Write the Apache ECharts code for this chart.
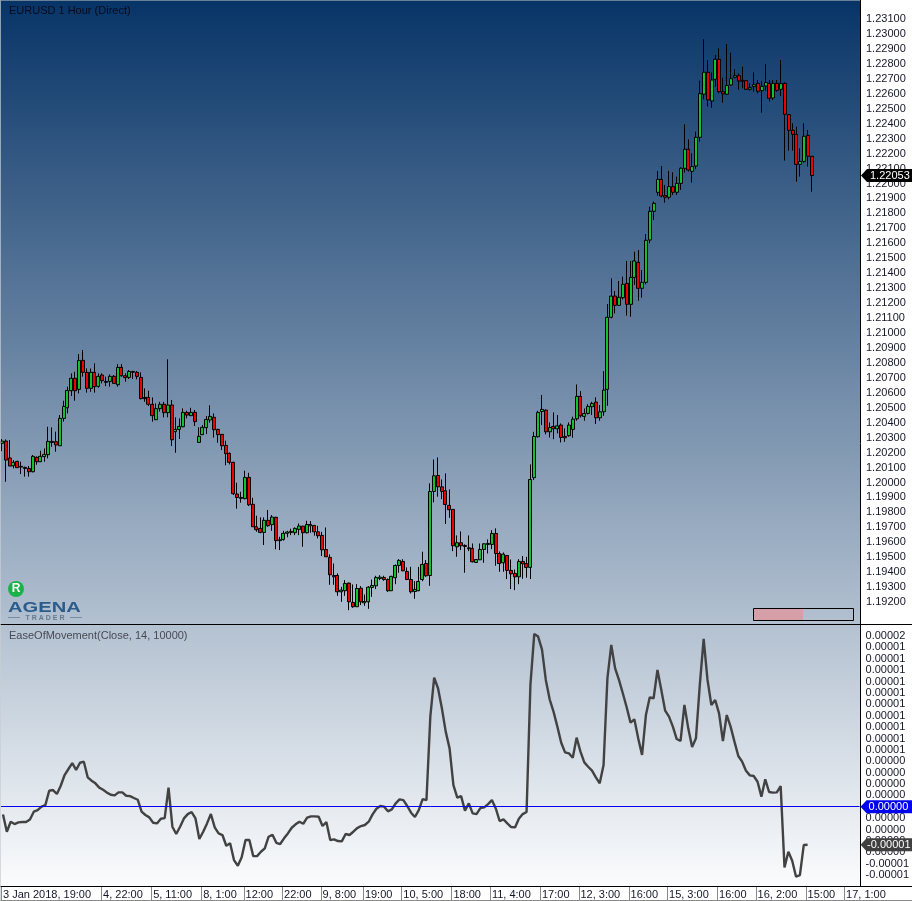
<!DOCTYPE html>
<html>
<head>
<meta charset="utf-8">
<style>html,body{margin:0;padding:0;background:#fff}</style>
<script src="https://cdn.jsdelivr.net/npm/echarts@6/dist/echarts.min.js"></script>
</head>
<body>
<div id="main" style="width:912px;height:901px;"></div>
<script>
// hourly bars
var opens = [
1.20262,1.20277,1.20164,1.20112,1.20141,1.20108,1.20101,1.20094,1.20072,1.20168,
1.20139,1.20173,1.20186,1.20275,1.20273,1.20246,1.20429,1.20500,1.20614,1.20697,
1.20623,1.20817,1.20737,1.20630,1.20737,1.20643,1.20719,1.20676,1.20676,1.20710,
1.20654,1.20770,1.20714,1.20703,1.20737,1.20737,1.20703,1.20569,1.20569,1.20523,
1.20420,1.20494,1.20523,1.20467,1.20518,1.20340,1.20355,1.20373,1.20469,1.20447,
1.20469,1.20268,1.20320,1.20367,1.20418,1.20436,1.20355,1.20322,1.20248,1.20195,
1.20135,1.19923,1.19900,1.19892,1.20034,1.19854,1.19704,1.19693,1.19666,1.19747,
1.19718,1.19767,1.19611,1.19619,1.19660,1.19666,1.19664,1.19686,1.19708,1.19664,
1.19710,1.19713,1.19670,1.19646,1.19552,1.19499,1.19378,1.19378,1.19269,1.19276,
1.19327,1.19198,1.19169,1.19293,1.19195,1.19202,1.19298,1.19309,1.19358,1.19365,
1.19351,1.19276,1.19363,1.19445,1.19472,1.19405,1.19351,1.19271,1.19276,1.19351,
1.19458,1.19378,1.19940,1.20047,1.19971,1.19945,1.19847,1.19820,1.19570,1.19597,
1.19579,1.19563,1.19559,1.19465,1.19483,1.19552,1.19586,1.19586,1.19659,1.19525,
1.19463,1.19512,1.19412,1.19392,1.19369,1.19472,1.19458,1.19432,1.20032,1.20306,
1.20475,1.20484,1.20339,1.20375,1.20359,1.20384,1.20308,1.20313,1.20355,1.20426,
1.20576,1.20442,1.20462,1.20507,1.20538,1.20433,1.20473,1.20623,1.21105,1.21247,
1.21185,1.21236,1.21332,1.21192,1.21372,1.21473,1.21299,1.21339,1.21622,1.21814,
1.21941,1.22028,1.21919,1.21908,1.21979,1.21941,1.22001,1.22102,1.22229,1.22081,
1.22117,1.22309,1.22597,1.22744,1.22552,1.22697,1.22831,1.22614,1.22597,1.22659,
1.22710,1.22721,1.22690,1.22688,1.22630,1.22648,1.22670,1.22621,1.22652,1.22670,
1.22572,1.22670,1.22630,1.22670,1.22461,1.22356,1.22329,1.22128,1.22148,1.22322,1.22182];
var closes = [
1.20277,1.20150,1.20110,1.20135,1.20099,1.20103,1.20094,1.20072,1.20175,1.20139,
1.20175,1.20188,1.20275,1.20268,1.20251,1.20429,1.20509,1.20616,1.20697,1.20614,
1.20817,1.20737,1.20630,1.20737,1.20641,1.20710,1.20681,1.20670,1.20710,1.20663,
1.20770,1.20714,1.20701,1.20743,1.20743,1.20710,1.20561,1.20561,1.20523,1.20447,
1.20494,1.20523,1.20467,1.20518,1.20286,1.20355,1.20375,1.20469,1.20451,1.20469,
1.20407,1.20309,1.20369,1.20422,1.20442,1.20353,1.20320,1.20246,1.20193,1.20135,
1.19925,1.19900,1.19894,1.20034,1.19851,1.19704,1.19684,1.19666,1.19747,1.19711,
1.19769,1.19611,1.19617,1.19660,1.19669,1.19673,1.19693,1.19709,1.19664,1.19719,
1.19719,1.19670,1.19644,1.19550,1.19503,1.19383,1.19369,1.19269,1.19280,1.19325,
1.19202,1.19169,1.19291,1.19202,1.19204,1.19300,1.19311,1.19365,1.19367,1.19351,
1.19276,1.19372,1.19445,1.19479,1.19409,1.19351,1.19269,1.19285,1.19338,1.19452,
1.19376,1.19940,1.20045,1.19971,1.19940,1.19853,1.19818,1.19577,1.19597,1.19577,
1.19572,1.19557,1.19470,1.19485,1.19552,1.19590,1.19592,1.19659,1.19525,1.19458,
1.19521,1.19412,1.19389,1.19369,1.19472,1.19456,1.19432,1.20020,1.20308,1.20469,
1.20489,1.20339,1.20368,1.20359,1.20379,1.20301,1.20299,1.20384,1.20424,1.20576,
1.20446,1.20462,1.20509,1.20529,1.20433,1.20473,1.20618,1.21105,1.21247,1.21185,
1.21239,1.21326,1.21192,1.21372,1.21482,1.21299,1.21339,1.21620,1.21814,1.21867,
1.22028,1.21916,1.21908,1.21979,1.21941,1.22001,1.22102,1.22229,1.22090,1.22113,
1.22309,1.22601,1.22744,1.22559,1.22692,1.22831,1.22614,1.22599,1.22655,1.22701,
1.22721,1.22686,1.22684,1.22630,1.22641,1.22661,1.22617,1.22650,1.22675,1.22570,
1.22670,1.22623,1.22668,1.22463,1.22356,1.22329,1.22128,1.22148,1.22316,1.22182,1.22053];
var lows = [
1.20210,1.20005,1.20110,1.20094,1.20097,1.20057,1.20039,1.20039,1.20068,1.20119,
1.20137,1.20139,1.20161,1.20239,1.20206,1.20244,1.20407,1.20462,1.20578,1.20547,
1.20596,1.20708,1.20601,1.20607,1.20601,1.20634,1.20663,1.20645,1.20641,1.20659,
1.20641,1.20708,1.20674,1.20692,1.20692,1.20690,1.20556,1.20540,1.20511,1.20407,
1.20418,1.20474,1.20436,1.20436,1.20244,1.20199,1.20291,1.20369,1.20429,1.20445,
1.20378,1.20266,1.20317,1.20324,1.20400,1.20300,1.20266,1.20217,1.20115,1.20121,
1.19916,1.19825,1.19865,1.19887,1.19842,1.19704,1.19671,1.19660,1.19582,1.19704,
1.19677,1.19553,1.19548,1.19611,1.19633,1.19648,1.19648,1.19648,1.19570,1.19659,
1.19664,1.19644,1.19626,1.19508,1.19503,1.19316,1.19316,1.19242,1.19202,1.19242,
1.19146,1.19162,1.19169,1.19180,1.19175,1.19155,1.19235,1.19287,1.19347,1.19343,
1.19269,1.19276,1.19320,1.19396,1.19407,1.19347,1.19258,1.19222,1.19273,1.19340,
1.19369,1.19309,1.19867,1.19905,1.19889,1.19722,1.19764,1.19541,1.19503,1.19548,
1.19396,1.19541,1.19465,1.19463,1.19481,1.19463,1.19525,1.19554,1.19443,1.19403,
1.19403,1.19354,1.19287,1.19280,1.19320,1.19356,1.19363,1.19354,1.20016,1.20301,
1.20384,1.20322,1.20301,1.20290,1.20328,1.20268,1.20272,1.20306,1.20299,1.20413,
1.20435,1.20413,1.20455,1.20451,1.20391,1.20413,1.20446,1.20513,1.21098,1.21131,
1.21181,1.21225,1.21116,1.21109,1.21321,1.21216,1.21236,1.21326,1.21600,1.21756,
1.21919,1.21908,1.21872,1.21894,1.21923,1.21923,1.21957,1.22073,1.22079,1.22006,
1.22095,1.22280,1.22563,1.22514,1.22507,1.22648,1.22603,1.22541,1.22592,1.22655,
1.22704,1.22626,1.22637,1.22630,1.22621,1.22614,1.22603,1.22474,1.22621,1.22548,
1.22559,1.22614,1.22585,1.22153,1.22220,1.22220,1.22012,1.22046,1.22139,1.22113,1.21945];
var highs = [
1.20291,1.20288,1.20284,1.20150,1.20146,1.20139,1.20106,1.20110,1.20184,1.20175,
1.20213,1.20228,1.20373,1.20369,1.20340,1.20451,1.20547,1.20641,1.20730,1.20741,
1.20859,1.20886,1.20763,1.20763,1.20797,1.20730,1.20730,1.20708,1.20723,1.20719,
1.20792,1.20792,1.20730,1.20752,1.20746,1.20746,1.20737,1.20630,1.20614,1.20569,
1.20529,1.20540,1.20540,1.20824,1.20552,1.20436,1.20429,1.20496,1.20480,1.20500,
1.20485,1.20369,1.20384,1.20445,1.20516,1.20462,1.20360,1.20324,1.20280,1.20201,
1.20139,1.19999,1.19938,1.20079,1.20065,1.19898,1.19778,1.19767,1.19767,1.19816,
1.19782,1.19771,1.19637,1.19677,1.19677,1.19691,1.19700,1.19726,1.19710,1.19744,
1.19742,1.19715,1.19710,1.19670,1.19699,1.19519,1.19458,1.19392,1.19302,1.19347,
1.19331,1.19318,1.19320,1.19307,1.19251,1.19307,1.19351,1.19376,1.19380,1.19376,
1.19358,1.19376,1.19452,1.19487,1.19487,1.19432,1.19436,1.19340,1.19436,1.19537,
1.19481,1.19994,1.20154,1.20168,1.20020,1.20061,1.19954,1.19820,1.19646,1.19673,
1.19586,1.19646,1.19592,1.19485,1.19592,1.19592,1.19619,1.19681,1.19693,1.19539,
1.19532,1.19514,1.19485,1.19418,1.19487,1.19508,1.19503,1.20121,1.20339,1.20480,
1.20585,1.20489,1.20402,1.20469,1.20451,1.20395,1.20362,1.20402,1.20440,1.20656,
1.20611,1.20495,1.20524,1.20540,1.20570,1.20518,1.20745,1.21194,1.21366,1.21281,
1.21348,1.21377,1.21482,1.21482,1.21544,1.21555,1.21421,1.21662,1.21845,1.21879,
1.22084,1.22117,1.21990,1.22084,1.22075,1.22046,1.22108,1.22396,1.22296,1.22202,
1.22347,1.22688,1.22965,1.22826,1.22744,1.22860,1.22904,1.22708,1.22933,1.22875,
1.22764,1.22737,1.22782,1.22688,1.22670,1.22744,1.22692,1.22686,1.22800,1.22692,
1.22692,1.22692,1.22826,1.22677,1.22463,1.22403,1.22380,1.22235,1.22403,1.22358,1.22184];

// EaseOfMovement, in millionths
var eom = [
-0.67,-2.19,-1.31,-1.52,-1.37,-1.34,-1.34,-1.11,-0.43,-0.29,
0.01,0.15,1.41,1.47,1.12,1.85,2.79,3.32,3.84,3.23,
3.87,3.96,2.59,2.29,2.06,1.68,1.50,1.24,1.06,1.00,
1.27,1.27,0.97,0.94,0.77,0.62,-0.43,-0.72,-0.93,-1.40,
-1.46,-1.05,-0.99,1.68,-1.75,-2.39,-1.75,-1.02,-0.64,-0.46,
-1.02,-2.83,-2.19,-1.46,-0.64,-1.81,-2.34,-2.48,-3.42,-3.21,
-4.68,-5.18,-4.44,-2.92,-2.92,-4.33,-4.33,-3.95,-3.65,-2.63,
-2.45,-3.16,-3.27,-2.77,-2.34,-1.84,-1.54,-1.31,-1.49,-0.96,
-0.84,-0.84,-0.87,-1.69,-1.34,-2.92,-2.86,-3.01,-3.04,-2.39,
-2.48,-2.19,-1.87,-1.69,-1.60,-1.31,-0.67,-0.17,0.07,0.01,
-0.40,-0.23,0.30,0.65,0.59,0.07,-0.52,-0.90,-0.29,0.68,
0.59,7.92,11.34,10.41,8.65,6.60,5.13,1.91,0.80,0.94,
-0.34,0.30,-0.58,-0.64,-0.11,-0.05,0.24,0.59,-0.14,-1.25,
-1.11,-1.46,-1.78,-1.81,-1.05,-0.64,-0.46,10.70,15.18,14.95,
13.83,11.14,9.44,8.36,7.04,5.63,4.78,4.69,4.31,6.07,
4.84,3.90,3.52,3.17,2.59,2.06,3.67,11.28,14.21,12.16,
11.14,9.97,8.74,7.39,7.68,6.01,4.55,8.06,9.61,9.53,
12.02,10.26,8.44,7.92,7.04,5.95,5.78,8.94,6.89,5.25,
6.01,10.70,14.74,11.14,8.94,9.38,8.21,5.78,8.06,7.04,
5.72,4.46,3.96,3.17,2.76,2.70,2.20,0.89,2.41,1.30,
1.24,1.27,1.82,-5.32,-3.95,-4.74,-6.14,-6.00,-3.36,-3.33];

// bottom strip, the labels sit at these bars
var barCount = 223;
var tickBars = [0,26,39,52,63,73,83,94,104,117,127,140,150,163,173,186,196,209,219];
var tickTexts = ['3 Jan 2018, 19:00','4, 22:00','5, 11:00','8, 1:00','12:00','22:00','9, 8:00','19:00','10, 5:00','18:00','11, 4:00','17:00','12, 3:00','16:00','15, 3:00','16:00','16, 2:00','15:00','17, 1:00'];
var lastPrice = 1.22053;
var lastEom = -3.33;

var FONT = '"Liberation Sans", Arial, sans-serif';

var categories = [];
for (var i = 0; i < barCount; i++) categories.push('');
tickBars.forEach(function (b, k) { categories[b] = tickTexts[k]; });

var candleData = opens.map(function (o, k) {
    return [o, closes[k], lows[k], highs[k]];
});

function isTick(index, value) { return value !== ''; }

// the arrow tags on the right hand axis
function tagItem(text, fill, textFill, textX, withLine) {
    return function (params, api) {
        var y = api.coord([0, api.value(1)])[1];
        var x = params.coordSys.x + params.coordSys.width;
        var children = [{
            type: 'polygon',
            shape: { points: [[x + 1, y], [x + 7, y - 6.5], [912, y - 6.5], [912, y + 6.5], [x + 7, y + 6.5]] },
            style: { fill: fill }
        }, {
            type: 'text',
            style: { x: x + textX, y: y, text: text, fill: textFill, font: '11px ' + FONT, textVerticalAlign: 'middle' }
        }];
        if (withLine) {
            var ly = Math.floor(y) + 0.5;
            children.unshift({
                type: 'line',
                shape: { x1: params.coordSys.x, y1: ly, x2: x, y2: ly },
                style: { stroke: fill, lineWidth: 1 }
            });
        }
        return { type: 'group', children: children };
    };
}

// grey separators in the time strip, on the left edge of the labelled bar
function tickItem(params, api) {
    var x = Math.round(api.coord([api.value(0), 0])[0] - api.size([1, 0])[0] / 2) + 0.5;
    var y = params.coordSys.y + params.coordSys.height;
    return {
        type: 'line',
        shape: { x1: x, y1: y, x2: x, y2: y + 14 },
        style: { stroke: '#8a8a8a', lineWidth: 1 }
    };
}

function microLabel(v) {
    var n = Math.round(v);
    if (n >= 16 || n <= -7) return '';
    var r = Math.round(Math.abs(n) / 10);
    return (n < 0 && r > 0 ? '-' : '') + (r / 100000).toFixed(5);
}

var chart = echarts.init(document.getElementById('main'), null, { renderer: 'canvas' });
var option = {
    animation: false,
    backgroundColor: '#fff',
    title: [
        { text: 'EURUSD 1 Hour (Direct)', left: 9, top: 5, padding: 0, textStyle: { fontFamily: FONT, fontSize: 11, fontWeight: 'normal', color: '#060b1e' } },
        { text: 'EaseOfMovement(Close, 14, 10000)', left: 9, top: 630, padding: 0, textStyle: { fontFamily: FONT, fontSize: 11, fontWeight: 'normal', color: '#474a55' } }
    ],
    grid: [
        { left: -0.6, width: 860.6, top: 4.1, height: 612.95 },
        { left: -0.6, width: 860.6, top: 624.6, height: 261.9 }
    ],
    xAxis: [{
        type: 'category', gridIndex: 0, data: categories, show: false
    }, {
        type: 'category', gridIndex: 1, data: categories,
        axisLine: { show: false, onZero: false },
        axisTick: { show: false },
        axisLabel: {
            show: true, interval: isTick, align: 'left', margin: 3, color: '#16162a',
            fontFamily: FONT, fontSize: 11, hideOverlap: false
        }
    }],
    yAxis: [{
        type: 'value', gridIndex: 0, position: 'right', min: 1.191, max: 1.232, interval: 0.001,
        axisLine: { show: false }, axisTick: { show: false }, splitLine: { show: false },
        axisLabel: {
            margin: 6, color: '#16162a', fontFamily: FONT, fontSize: 11, padding: [2, 0, 0, 0],
            formatter: function (v) { return (v > 1.2315 || v < 1.1915) ? '' : v.toFixed(5); }
        }
    }, {
        type: 'value', gridIndex: 1, position: 'right', min: -7, max: 16, interval: 1,
        axisLine: { show: false }, axisTick: { show: false }, splitLine: { show: false },
        axisLabel: { margin: 6, color: '#16162a', fontFamily: FONT, fontSize: 11, padding: [2, 0, 0, 0], formatter: microLabel }
    }],
    series: [{
        type: 'candlestick', xAxisIndex: 0, yAxisIndex: 0, data: candleData, barWidth: 3.5, silent: true, z: 3,
        itemStyle: { color: '#12c22c', color0: '#ee0000', borderColor: '#000', borderColor0: '#000', borderWidth: 1 }
    }, {
        type: 'line', xAxisIndex: 1, yAxisIndex: 1, data: eom, showSymbol: false, silent: true, z: 5,
        lineStyle: { color: '#424242', width: 2.4 }
    }, {
        type: 'custom', xAxisIndex: 1, yAxisIndex: 1, silent: true, z: 4, clip: false, data: tickBars.map(function (b) { return [b, 0]; }),
        renderItem: tickItem
    }, {
        type: 'custom', xAxisIndex: 0, yAxisIndex: 0, silent: true, z: 6, data: [[0, lastPrice]],
        renderItem: tagItem('1.22053', '#000', '#fff', 10)
    }, {
        type: 'custom', xAxisIndex: 1, yAxisIndex: 1, silent: true, z: 6, data: [[0, 0]],
        renderItem: tagItem('0.00000', '#0000f0', '#fff', 9, true)
    }, {
        type: 'custom', xAxisIndex: 1, yAxisIndex: 1, silent: true, z: 6, data: [[0, lastEom]],
        renderItem: tagItem('-0.00001', '#404040', '#fff', 7.5)
    }],
    graphic: [
        // panel background
        { type: 'rect', z: -10, silent: true, shape: { x: 0, y: 0, width: 860, height: 887 },
          style: { fill: new echarts.graphic.LinearGradient(0, 0, 0, 1, [{ offset: 0, color: '#073467' }, { offset: 1, color: '#fbfcfd' }]) } },
        // frame
        { type: 'line', z: 5, silent: true, shape: { x1: 860.5, y1: 0, x2: 860.5, y2: 887 }, style: { stroke: '#000', lineWidth: 1 } },
        { type: 'line', z: 5, silent: true, shape: { x1: 0, y1: 624.5, x2: 912, y2: 624.5 }, style: { stroke: '#000', lineWidth: 1 } },
        { type: 'line', z: 5, silent: true, shape: { x1: 0, y1: 886.5, x2: 912, y2: 886.5 }, style: { stroke: '#000', lineWidth: 1 } },
        { type: 'line', z: 5, silent: true, shape: { x1: 0, y1: 900.5, x2: 912, y2: 900.5 }, style: { stroke: '#8a8a8a', lineWidth: 1 } },
        { type: 'line', z: 5, silent: true, shape: { x1: 0.5, y1: 0, x2: 0.5, y2: 901 }, style: { stroke: 'rgba(200,205,212,0.7)', lineWidth: 1 } },
        { type: 'line', z: 5, silent: true, shape: { x1: 0, y1: 0.5, x2: 860, y2: 0.5 }, style: { stroke: 'rgba(150,160,172,0.7)', lineWidth: 1 } },
        // progress box
        { type: 'rect', z: 5, silent: true, shape: { x: 754, y: 609, width: 49, height: 11 }, style: { fill: '#d69fa8' } },
        { type: 'rect', z: 5, silent: true, shape: { x: 753.5, y: 608.5, width: 100, height: 12 }, style: { fill: 'none', stroke: '#000', lineWidth: 1 } },
        // logo
        { type: 'circle', z: 5, silent: true, shape: { cx: 16, cy: 589, r: 8 }, style: { fill: '#1cb24a' } },
        { type: 'text', z: 6, silent: true, style: { x: 16, y: 589, text: 'R', fill: '#fff', font: 'bold 12px ' + FONT, textAlign: 'center', textVerticalAlign: 'middle' } },
        { type: 'text', z: 5, silent: true, x: 8, y: 608, scaleX: 1.3, style: { x: 0, y: 0, text: 'AGENA', fill: '#2b5c8a', font: 'bold 15.5px ' + FONT, textVerticalAlign: 'middle' } },
        { type: 'text', z: 5, silent: true, style: { x: 45, y: 618, text: 'T R A D E R', fill: '#66798c', font: 'bold 7px ' + FONT, textAlign: 'center', textVerticalAlign: 'middle' } },
        { type: 'line', z: 5, silent: true, shape: { x1: 8, y1: 617.5, x2: 20, y2: 617.5 }, style: { stroke: '#7a8c9e', lineWidth: 1 } },
        { type: 'line', z: 5, silent: true, shape: { x1: 70, y1: 617.5, x2: 82, y2: 617.5 }, style: { stroke: '#7a8c9e', lineWidth: 1 } }
    ]
};
chart.setOption(option);
</script>
</body>
</html>
